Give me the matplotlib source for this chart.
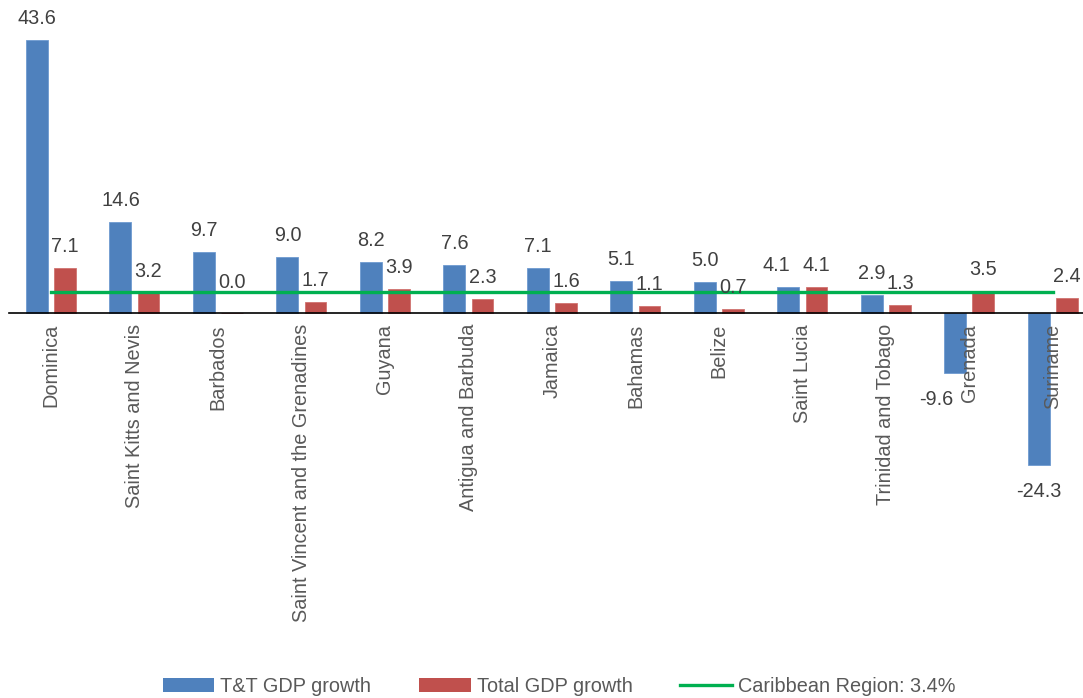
import matplotlib
matplotlib.use("Agg")
import matplotlib.pyplot as plt
import numpy as np
from matplotlib.patches import Patch
from matplotlib.lines import Line2D

plt.rcParams['font.family'] = ['Liberation Sans', 'DejaVu Sans']

countries = ["Dominica", "Saint Kitts and Nevis", "Barbados",
             "Saint Vincent and the Grenadines", "Guyana", "Antigua and Barbuda",
             "Jamaica", "Bahamas", "Belize", "Saint Lucia", "Trinidad and Tobago",
             "Grenada", "Suriname"]
tt_growth = [43.6, 14.6, 9.7, 9.0, 8.2, 7.6, 7.1, 5.1, 5.0, 4.1, 2.9, -9.6, -24.3]
total_growth = [7.1, 3.2, 0.0, 1.7, 3.9, 2.3, 1.6, 1.1, 0.7, 4.1, 1.3, 3.5, 2.4]
caribbean_avg = 3.4

BLUE = "#4F81BD"
RED = "#C0504D"
GREEN = "#00B050"
TXT = "#404040"
FS = 14.3

# extra label nudges (pixels) to keep labels clear, as in the original
nudge_tt = {"Grenada": (-19, 0), "Saint Lucia": (-12, 0)}
nudge_total = {"Barbados": (0, 9)}

W, H = 1083, 698
fig = plt.figure(figsize=(W / 100, H / 100), dpi=100)
ax = fig.add_axes([9.25 / W, 0.2825, (W - 9.25) / W, 0.6998])

x = np.arange(len(countries))
off = 0.168
bw = 0.263
b1 = ax.bar(x - off, tt_growth, bw, color=BLUE, edgecolor="#6F9BD0", linewidth=0.6)
b2 = ax.bar(x + off, total_growth, bw, color=RED, edgecolor="#D07370", linewidth=0.6)
ax.plot(x, [caribbean_avg] * len(x), color=GREEN, lw=2.4, zorder=3)

def label(bars, vals, nudges):
    for rect, v, name in zip(bars, vals, countries):
        cx = rect.get_x() + rect.get_width() / 2
        dx, dy = nudges.get(name, (0, 0))
        if v >= 0:
            ax.annotate(f"{v:.1f}", (cx, v), xytext=(dx, 16 + dy), textcoords="offset pixels",
                        ha="center", va="baseline", fontsize=FS, color=TXT)
        else:
            ax.annotate(f"{v:.1f}", (cx, v), xytext=(dx, -17 + dy), textcoords="offset pixels",
                        ha="center", va="top", fontsize=FS, color=TXT)

label(b1, tt_growth, nudge_tt)
label(b2, total_growth, nudge_total)

ax.set_xlim(-0.5, 12.36)
ax.set_ylim(-30, 48)
for s in ["top", "right", "left"]:
    ax.spines[s].set_visible(False)
ax.spines["bottom"].set_position(("data", 0))
ax.spines["bottom"].set_color("black")
ax.spines["bottom"].set_linewidth(1.2)
ax.spines["bottom"].set_zorder(4)
ax.set_yticks([])
ax.set_xticks(x)
ax.set_xticklabels(countries, rotation=90, fontsize=FS, color="#595959")
ax.tick_params(axis="x", length=0, pad=8.0)

handles = [Patch(facecolor=BLUE, label="T&T GDP growth"),
           Patch(facecolor=RED, label="Total GDP growth"),
           Line2D([0], [0], color=GREEN, lw=2.4, label="Caribbean Region: 3.4%")]
fig.legend(handles=handles, loc="center", bbox_to_anchor=(559 / W, 12 / H), ncol=3,
           frameon=False, fontsize=FS, handlelength=2.6, handletextpad=0.3,
           columnspacing=2.4, labelcolor="#595959")

fig.savefig("out.png", dpi=100)
